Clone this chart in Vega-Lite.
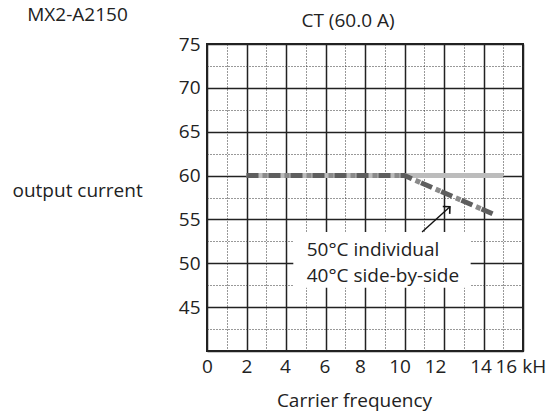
{
  "$schema": "https://vega.github.io/schema/vega-lite/v6.json",
  "autosize": "none",
  "width": 316,
  "height": 307,
  "padding": {"left": 207, "top": 44, "right": 28, "bottom": 65},
  "background": "white",
  "config": {
    "font": "Open Sans",
    "view": {"stroke": "#222", "strokeWidth": 2},
    "axis": {"labelFont": "Open Sans", "titleFont": "Open Sans", "labelColor": "#222", "titleColor": "#222", "titleFontWeight": "normal"}
  },
  "datasets": {
    "curves": [
      {"series": "side", "f": 2, "a": 60},
      {"series": "side", "f": 15, "a": 60},
      {"series": "ind", "f": 2, "a": 60},
      {"series": "ind", "f": 10, "a": 60},
      {"series": "ind", "f": 14.6, "a": 55.5}
    ],
    "box": [{"f": 4.37, "f2": 13.35, "a": 53.56, "a2": 47.2}],
    "notes": [
      {"f": 5.05, "a": 50.83, "t": "50°C individual"},
      {"f": 5.05, "a": 47.9, "t": "40°C side-by-side"},
      {"f": -9.1, "a": 77.6, "t": "MX2-A2150"}
    ],
    "heading": [
      {"f": 7.14, "a": 76.94, "t": "CT (60.0 A)"}
    ],
    "arrow": [{"f": 10.89, "a": 53.56, "f2": 12.3, "a2": 56.45}]
  },
  "encoding": {
    "x": {
      "field": "f", "type": "quantitative",
      "scale": {"domain": [0, 16], "nice": false, "zero": false},
      "axis": {
        "title": "Carrier frequency",
        "titleFontSize": 19,
        "titleX": 147,
        "titleY": 55,
        "titleBaseline": "alphabetic",
        "titleAlign": "center",
        "values": [0,1,2,3,4,5,6,7,8,9,10,11,12,13,14,15,16],
        "domain": false,
        "ticks": false,
        "tickSize": 0,
        "labelFontSize": 19,
        "labelBaseline": "alphabetic",
        "labelPadding": 21,
        "labelOverlap": false,
        "labelBound": false,
        "labelFlush": false,
        "labelExpr": "datum.value % 2 == 0 ? (datum.value == 16 ? '16 kH' : datum.label) : ''",
        "labelAlign": {"condition": {"test": "datum.value == 16", "value": "left"}, "value": "center"},
        "labelOffset": {"condition": [
          {"test": "datum.value == 16", "value": -28},
          {"test": "datum.value == 14", "value": -3},
          {"test": "datum.value == 12", "value": -9},
          {"test": "datum.value == 10", "value": -5},
          {"test": "datum.value == 8", "value": -5},
          {"test": "datum.value == 6", "value": -1},
          {"test": "datum.value == 4", "value": -1}
        ], "value": 0},
        "grid": true,
        "gridColor": {"condition": {"test": "datum.value % 2 != 0", "value": "#333"}, "value": "#222"},
        "gridDash": {"condition": {"test": "datum.value % 2 != 0", "value": [1, 2]}, "value": []},
        "gridWidth": {"condition": {"test": "datum.value % 2 != 0", "value": 1}, "value": 1.5},
        "gridOpacity": 1
      }
    },
    "y": {
      "field": "a", "type": "quantitative",
      "scale": {"domain": [40, 75], "nice": false, "zero": false},
      "axis": {
        "title": "output current",
        "titleFontSize": 19,
        "titleAngle": 0,
        "titleAlign": "left",
        "titleBaseline": "alphabetic",
        "titleX": -195,
        "titleY": 152,
        "values": [40, 42.5, 45, 47.5, 50, 52.5, 55, 57.5, 60, 62.5, 65, 67.5, 70, 72.5, 75],
        "domain": false,
        "ticks": false,
        "tickSize": 0,
        "labelFontSize": 19,
        "labelPadding": 7,
        "labelBaseline": "middle",
        "labelOverlap": false,
        "labelBound": false,
        "labelFlush": false,
        "labelExpr": "datum.value % 5 == 0 && datum.value > 40 ? datum.label : ''",
        "grid": true,
        "gridColor": {"condition": {"test": "datum.value % 5 != 0", "value": "#333"}, "value": "#222"},
        "gridDash": {"condition": {"test": "datum.value % 5 != 0", "value": [1, 2]}, "value": []},
        "gridWidth": {"condition": {"test": "datum.value % 5 != 0", "value": 1}, "value": 1.5},
        "gridOpacity": 1
      }
    }
  },
  "layer": [
    {
      "data": {"name": "box"},
      "mark": {"type": "rect", "fill": "white", "stroke": null},
      "encoding": {
        "x2": {"field": "f2"},
        "y2": {"field": "a2"}
      }
    },
    {
      "data": {"name": "curves"},
      "transform": [{"filter": "datum.series == 'side'"}],
      "mark": {"type": "line", "color": "#bcbcbc", "strokeWidth": 5, "strokeCap": "butt"}
    },
    {
      "data": {"name": "curves"},
      "transform": [{"filter": "datum.series == 'ind'"}],
      "mark": {"type": "line", "color": "#8a8a8a", "strokeWidth": 5, "strokeCap": "butt", "strokeDash": [5, 17], "strokeDashOffset": 6}
    },
    {
      "data": {"name": "curves"},
      "transform": [{"filter": "datum.series == 'ind'"}],
      "mark": {"type": "line", "color": "#5e5e5e", "strokeWidth": 5, "strokeCap": "butt", "strokeDash": [12, 10]}
    },
    {
      "data": {"name": "arrow"},
      "mark": {"type": "rule", "color": "#111", "strokeWidth": 1.4},
      "encoding": {
        "x2": {"field": "f2"},
        "y2": {"field": "a2"}
      }
    },
    {
      "data": {"name": "arrow"},
      "mark": {"type": "point", "shape": "M-0.8,0.8L0,0L0.8,0.8", "filled": false, "stroke": "#111", "strokeWidth": 1.6, "size": 160, "angle": 47, "opacity": 1},
      "encoding": {
        "x": {"field": "f2", "type": "quantitative"},
        "y": {"field": "a2", "type": "quantitative"}
      }
    },
    {
      "data": {"name": "notes"},
      "mark": {"type": "text", "align": "left", "baseline": "alphabetic", "font": "Open Sans", "fontSize": 19, "color": "#222"},
      "encoding": {
        "text": {"field": "t"}
      }
    },
    {
      "data": {"name": "heading"},
      "mark": {"type": "text", "align": "center", "baseline": "alphabetic", "font": "Open Sans", "fontSize": 19, "color": "#222"},
      "encoding": {
        "text": {"field": "t"}
      }
    }
  ]
}
